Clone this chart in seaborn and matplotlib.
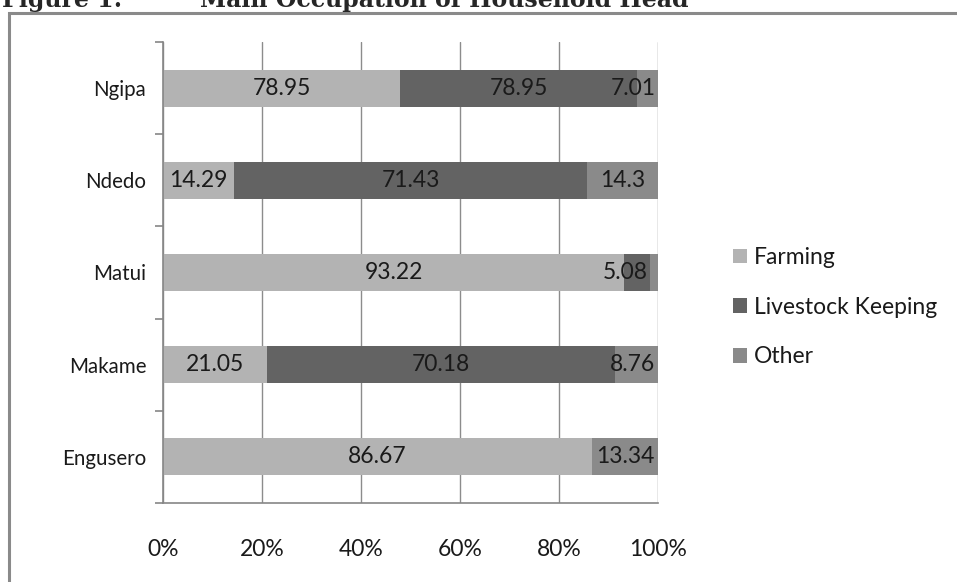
import matplotlib
matplotlib.use("Agg")
import numpy as np
import pandas as pd
import matplotlib.pyplot as plt
import seaborn as sns
from matplotlib.patches import Rectangle, Patch
from matplotlib.ticker import FixedLocator, PercentFormatter

# Main occupation of household head, by village (raw survey figures)
villages = ["Ngipa", "Ndedo", "Matui", "Makame", "Engusero"]
farming = [78.95, 14.29, 93.22, 21.05, 86.67]
livestock = [78.95, 71.43, 5.08, 70.18, 0.0]
other = [7.01, 14.3, 1.70, 8.76, 13.34]
series_names = ["Farming", "Livestock Keeping", "Other"]
series_colors = ["#b3b3b3", "#636363", "#8a8a8a"]
x_ticks = [0, 20, 40, 60, 80, 100]
min_label = 2.0

sns.set_theme(style="white")
plt.rcParams["font.family"] = ["Lato", "DejaVu Sans"]

df = pd.DataFrame({"Village": villages, "Farming": farming,
                   "Livestock Keeping": livestock, "Other": other})
raw = df[series_names]
share = raw.div(raw.sum(axis=1), axis=0) * 100
cum = share.cumsum(axis=1)

fig = plt.figure(figsize=(9.57, 5.82), dpi=100)
ax = fig.add_axes([163 / 957, 1 - 503 / 582, 495 / 957, 461 / 582])

# 100% stacked bars: draw cumulative totals from the outermost series inwards
for name, color in reversed(list(zip(series_names, series_colors))):
    plot_df = pd.DataFrame({"Village": villages, "value": cum[name].values})
    sns.barplot(data=plot_df, x="value", y="Village", order=villages,
                color=color, width=0.4, saturation=1, orient="h",
                linewidth=0, edgecolor="none", ax=ax, zorder=2)

# value labels (raw figures) on each segment
for i, v in enumerate(villages):
    for name in series_names:
        val = raw.loc[i, name]
        if val < min_label:
            continue
        end = cum.loc[i, name]
        start = end - share.loc[i, name]
        if share.loc[i, name] < 10:
            xpos, ha = min(end, 99.8) - 0.3, "right"
        else:
            xpos, ha = (start + end) / 2, "center"
        ax.text(xpos, i, f"{val:g}", ha=ha, va="center", fontsize=16.5,
                color="#1a1a1a", zorder=3)

ax.set_xlim(0, 100)
ax.set_ylim(4.5, -0.5)
ax.xaxis.set_major_locator(FixedLocator(x_ticks))
ax.xaxis.set_major_formatter(PercentFormatter(decimals=0))
ax.set_xlabel("")
ax.set_ylabel("")
ax.set_axisbelow(True)
ax.grid(axis="x", color="#8c8c8c", linewidth=1, zorder=0)
ax.grid(axis="y", visible=False)

ax.tick_params(axis="x", length=0, pad=26, labelsize=16.5, labelcolor="#1a1a1a")
ax.tick_params(axis="y", which="major", length=0, pad=12, labelsize=14.8,
               labelcolor="#1a1a1a")
ax.yaxis.set_minor_locator(FixedLocator(np.arange(-0.5, len(villages), 1.0)))
ax.tick_params(axis="y", which="minor", length=5.5, width=1.2,
               color="#868686", direction="out", left=True)

for side in ("top", "right"):
    ax.spines[side].set_visible(False)
for side in ("left", "bottom"):
    ax.spines[side].set_color("#868686")
    ax.spines[side].set_linewidth(1.2)

handles = [Patch(facecolor=c, edgecolor="none", label=n)
           for n, c in zip(series_names, series_colors)]
fig.legend(handles=handles, loc="upper left",
           bbox_to_anchor=(724 / 957, 1 - 238 / 582), frameon=False,
           fontsize=16.5, handlelength=0.6, handleheight=0.6,
           handletextpad=0.3, labelspacing=1.25, borderaxespad=0,
           labelcolor="#1a1a1a")

# chart frame
fig.patches.append(Rectangle((9 / 957, -0.05), 1.1, 1 - 13 / 582 + 0.05,
                             transform=fig.transFigure, fill=False,
                             edgecolor="#8a8a8a", linewidth=2.2))

# caption above the frame
fig.text(2 / 957, 1 - 7 / 582, "Figure 1:", family="DejaVu Serif",
         fontweight="bold", fontsize=17, va="baseline", ha="left")
fig.text(200 / 957, 1 - 7 / 582, "Main Occupation of Household Head",
         family="DejaVu Serif", fontweight="bold", fontsize=17,
         va="baseline", ha="left")

fig.savefig("out.png", dpi=100)
